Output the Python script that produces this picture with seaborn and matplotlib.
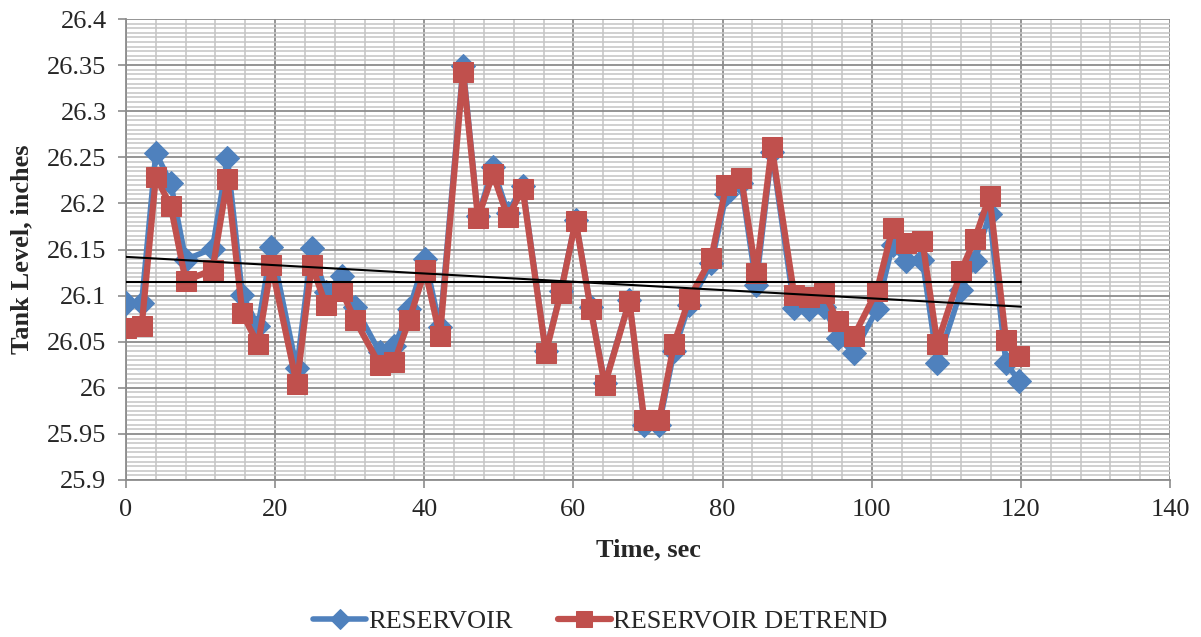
import numpy as np
import pandas as pd
import matplotlib
matplotlib.use("Agg")
import matplotlib.pyplot as plt
import seaborn as sns
from matplotlib.ticker import MultipleLocator

time_sec = [0, 2.1, 4.0, 6.0, 8.0, 11.6, 13.6, 15.6, 17.7, 19.5, 22.9, 24.9, 26.8, 28.9, 30.7,
            34.0, 36.0, 38.0, 40.1, 42.1, 45.2, 47.2, 49.2, 51.2, 53.2, 56.3, 58.3, 60.3, 62.3,
            64.2, 67.5, 69.5, 71.5, 73.5, 75.5, 78.5, 80.5, 82.5, 84.5, 86.6, 89.6, 91.6, 93.6,
            95.5, 97.6, 100.7, 102.8, 104.6, 106.8, 108.8, 112.0, 113.8, 115.8, 118.0, 119.8]

reservoir = [26.092, 26.092, 26.255, 26.222, 26.139, 26.151, 26.249, 26.101, 26.0665, 26.153,
             26.021, 26.1515, 26.104, 26.121, 26.088, 26.039, 26.045, 26.086, 26.14, 26.066,
             26.349, 26.186, 26.239, 26.19, 26.219, 26.04, 26.105, 26.182, 26.088, 26.005,
             26.095, 25.96, 25.96, 26.04, 26.09, 26.135, 26.21, 26.222, 26.111, 26.256,
             26.087, 26.085, 26.088, 26.054, 26.038, 26.085, 26.155, 26.137, 26.139, 26.027,
             26.106, 26.137, 26.188, 26.027, 26.007]

reservoir_detrend = [26.065, 26.0665, 26.229, 26.197, 26.116, 26.128, 26.226, 26.081, 26.047, 26.133,
                     26.004, 26.133, 26.090, 26.105, 26.074, 26.025, 26.0285, 26.074, 26.128, 26.056,
                     26.342, 26.184, 26.232, 26.185, 26.2155, 26.038, 26.103, 26.181, 26.086, 26.003,
                     26.094, 25.965, 25.965, 26.048, 26.096, 26.141, 26.220, 26.228, 26.124, 26.261,
                     26.101, 26.099, 26.103, 26.072, 26.056, 26.1055, 26.173, 26.157, 26.159, 26.048,
                     26.127, 26.161, 26.208, 26.052, 26.034]

trend_time = [0, 120]
trend_level = [26.142, 26.088]
mean_level = [26.115, 26.115]

series_names = ["RESERVOIR", "RESERVOIR DETREND"]
x_ticks = [0, 20, 40, 60, 80, 100, 120, 140]
y_ticks = [25.9, 25.95, 26, 26.05, 26.1, 26.15, 26.2, 26.25, 26.3, 26.35, 26.4]
y_tick_labels = ["25.9", "25.95", "26", "26.05", "26.1", "26.15", "26.2", "26.25", "26.3", "26.35", "26.4"]

sns.set_theme(style="white")
plt.rcParams["font.family"] = ["Liberation Serif", "DejaVu Serif"]

fig = plt.figure(figsize=(12.01, 6.37), dpi=100)
ax = fig.add_axes([126 / 1201, 1 - 480 / 637, (1170 - 126) / 1201, (480 - 19) / 637])

blue = "#4F81BD"
red = "#C0504D"

df = pd.DataFrame({"t": time_sec, "r": reservoir, "d": reservoir_detrend})
sns.lineplot(data=df, x="t", y="r", ax=ax, color=blue, lw=4, marker="D", markersize=12,
             markeredgecolor=blue, label=series_names[0], zorder=3, sort=False)
sns.lineplot(data=df, x="t", y="d", ax=ax, color=red, lw=4.5, marker="s", markersize=14,
             markeredgecolor=red, label=series_names[1], zorder=4, sort=False)
sns.lineplot(x=trend_time, y=trend_level, ax=ax, color="black", lw=1.5, zorder=5, legend=False)
sns.lineplot(x=trend_time, y=mean_level, ax=ax, color="black", lw=1.5, zorder=5, legend=False)

ax.set_xlim(0, 140)
ax.set_ylim(25.9, 26.4)
ax.set_xticks(x_ticks)
ax.set_yticks(y_ticks)
ax.set_yticklabels(y_tick_labels)
ax.xaxis.set_minor_locator(MultipleLocator(4))
ax.yaxis.set_minor_locator(MultipleLocator(0.005))
ax.grid(which="minor", color="#C4C4C4", lw=1.1, zorder=0)
ax.grid(which="major", color="#8C8C8C", lw=1.3, zorder=1)
ax.set_axisbelow(True)
ax.tick_params(which="major", direction="out", length=6, width=1.2, color="#8C8C8C",
               labelsize=19, pad=8, left=True, bottom=True)
ax.tick_params(which="minor", length=0)
for s in ["top", "right"]:
    ax.spines[s].set_visible(False)
for s in ["left", "bottom"]:
    ax.spines[s].set_color("#8C8C8C")
    ax.spines[s].set_linewidth(1.3)

ax.set_xlabel("Time, sec", fontsize=19, fontweight="bold", labelpad=12)
ax.set_ylabel("Tank Level, inches", fontsize=19, fontweight="bold", labelpad=10)

ax.legend_.remove()
handles, labels = ax.get_legend_handles_labels()
fig.legend(handles[:2], labels[:2], loc="center", bbox_to_anchor=(0.5, 1 - 621 / 637), ncol=2,
           frameon=False, fontsize=19, handlelength=2.0, columnspacing=1.7, handletextpad=0.1,
           markerscale=0.85)

fig.savefig("out.png", dpi=100)
